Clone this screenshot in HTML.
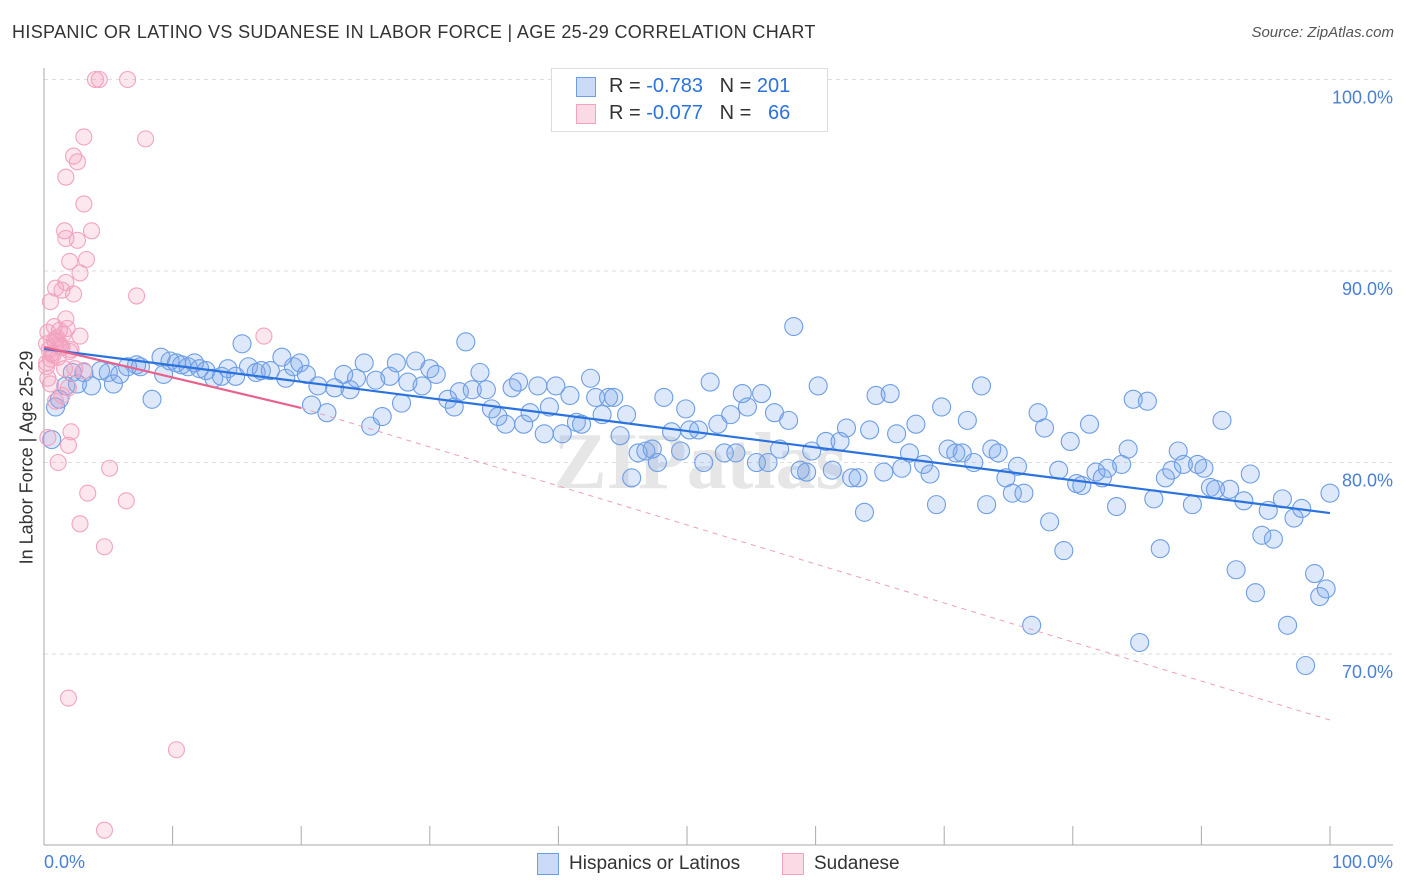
<!DOCTYPE html>
<html><head><meta charset="utf-8">
<style>
body{margin:0;background:#fff;font-family:"Liberation Sans",sans-serif;}
#wrap{position:relative;width:1406px;height:892px;overflow:hidden;}
.t{position:absolute;white-space:nowrap;}
</style></head>
<body>
<div id="wrap">
<div class="t" style="left:12px;top:22px;font-size:18px;color:#333;letter-spacing:0.35px;">HISPANIC OR LATINO VS SUDANESE IN LABOR FORCE | AGE 25-29 CORRELATION CHART</div>
<div class="t" style="right:12px;top:24px;font-size:15px;color:#555;font-style:italic;">Source: ZipAtlas.com</div>
<svg id="svg" width="1406" height="892" style="position:absolute;left:0;top:0"></svg>
</div>
<script>
const xTickVals=[0,10,20,30,40,50,60,70,80,90,100];
const yTickVals=[70,80,90,100];
const yTickLabels=["70.0%","80.0%","90.0%","100.0%"];
const blueX=[0.6,0.9,1.2,1.7,2.2,2.6,3.1,3.7,4.4,5.0,5.4,5.9,6.5,7.2,7.5,8.4,9.1,9.3,9.8,10.3,10.7,11.2,11.7,12.1,12.6,13.2,13.8,14.3,14.9,15.4,15.9,16.5,16.9,17.6,18.5,18.8,19.4,19.9,20.4,20.8,21.3,22.0,22.6,23.3,23.8,24.3,24.9,25.4,25.8,26.3,26.9,27.4,27.8,28.3,28.9,29.4,30.0,30.5,31.4,31.9,32.3,32.8,33.3,33.9,34.4,34.8,35.3,35.9,36.4,36.9,37.3,37.8,38.4,38.9,39.3,39.8,40.3,40.9,41.4,41.8,42.5,42.9,43.4,43.9,44.3,44.8,45.3,45.7,46.2,46.8,47.3,47.7,48.2,48.8,49.5,49.9,50.2,50.9,51.3,51.8,52.4,52.9,53.4,53.8,54.3,54.7,55.4,55.8,56.3,56.8,57.2,57.9,58.3,58.8,59.3,59.7,60.2,60.8,61.3,61.9,62.4,62.8,63.3,63.8,64.2,64.7,65.3,65.8,66.3,66.7,67.3,67.8,68.4,68.9,69.4,69.8,70.3,70.9,71.4,71.8,72.3,72.9,73.3,73.7,74.2,74.8,75.3,75.7,76.2,76.8,77.3,77.8,78.2,78.9,79.3,79.8,80.3,80.7,81.3,81.8,82.3,82.7,83.4,83.8,84.3,84.7,85.2,85.8,86.3,86.8,87.2,87.7,88.2,88.6,89.3,89.7,90.2,90.7,91.1,91.6,92.2,92.7,93.3,93.8,94.2,94.7,95.2,95.6,96.3,96.7,97.2,97.8,98.1,98.8,99.2,99.7,100];
const blueY=[81.2,82.9,83.3,84.0,84.7,84.1,84.7,84.0,84.8,84.7,84.1,84.6,85.0,85.1,85.0,83.3,85.5,84.6,85.3,85.2,85.1,85.0,85.2,84.9,84.8,84.4,84.5,84.9,84.5,86.2,85.0,84.7,84.8,84.8,85.5,84.4,85.0,85.2,84.6,83.0,84.0,82.6,83.9,84.6,83.8,84.4,85.2,81.9,84.3,82.4,84.5,85.2,83.1,84.2,85.3,84.0,84.9,84.6,83.3,82.9,83.7,86.3,83.8,84.7,83.8,82.8,82.4,82.0,83.9,84.2,82.0,82.6,84.0,81.5,82.9,84.0,81.5,83.5,82.1,82.0,84.4,83.4,82.5,83.4,83.4,81.4,82.5,79.2,80.5,80.6,80.7,80.0,83.4,81.6,80.6,82.8,81.7,81.7,80.0,84.2,82.0,80.5,82.5,80.5,83.6,82.9,80.0,83.6,80.0,82.6,80.7,82.2,87.1,79.6,79.5,80.6,84.0,81.1,79.6,81.1,81.8,79.2,79.2,77.4,81.7,83.5,79.5,83.6,81.5,79.7,80.5,82.0,79.9,79.4,77.8,82.9,80.7,80.5,80.5,82.2,80.0,84.0,77.8,80.7,80.5,79.2,78.4,79.8,78.4,71.5,82.6,81.8,76.9,79.6,75.4,81.1,78.9,78.8,82.0,79.5,79.2,79.7,77.7,79.9,80.7,83.3,70.6,83.2,78.1,75.5,79.2,79.6,80.6,79.9,77.8,79.9,79.7,78.7,78.6,82.2,78.6,74.4,78.0,79.4,73.2,76.2,77.5,76.0,78.1,71.5,77.1,77.6,69.4,74.2,73.0,73.4,78.4];
const pinkX=[4.0,4.3,6.5,7.9,3.1,2.3,2.6,1.7,3.1,1.6,3.7,1.7,2.6,2.0,3.3,2.8,1.7,0.9,1.4,2.3,7.2,0.5,1.7,0.8,1.2,0.3,2.8,17.1,0.9,0.2,1.4,2.1,0.6,1.1,0.2,1.6,0.3,3.1,1.9,1.4,0.5,0.9,2.1,0.3,1.9,1.1,5.1,3.4,6.4,2.8,4.7,1.9,10.3,4.7,1.0,0.4,1.3,0.7,1.5,0.2,2.4,0.8,1.8,0.5,1.2,2.0];
const pinkY=[100.0,100.0,100.0,96.9,97.0,96.0,95.7,94.9,93.5,92.1,92.1,91.7,91.6,90.5,90.6,89.9,89.4,89.1,89.0,88.8,88.7,88.4,87.5,87.1,86.9,86.8,86.6,86.6,86.3,86.2,86.0,85.9,85.7,85.5,85.2,84.9,84.4,84.8,83.9,83.5,84.1,83.2,81.6,81.3,80.9,80.0,79.7,78.4,78.0,76.8,75.6,67.7,65.0,60.8,86.5,85.9,86.1,85.6,86.7,85.0,84.9,86.4,87.0,85.4,86.2,85.8];
const blueTrend=[85.93,77.36];
const pinkTrend=[86.03,82.85,66.55];

const NS="http://www.w3.org/2000/svg";
const svg=document.getElementById('svg');
const X=v=>44+v*12.86;
const Y=v=>79.5+(100-v)*19.15;
function mk(tag,attrs,parent){const e=document.createElementNS(NS,tag);for(const k in attrs)e.setAttribute(k,attrs[k]);(parent||svg).appendChild(e);return e;}

yTickVals.forEach((v,i)=>{
  const g=mk('line',{x1:44,x2:1393,y1:Y(v),y2:Y(v),stroke:'#ddd','stroke-dasharray':'4,4','stroke-width':1});
  
  
  const t=mk('text',{x:1393,y:Y(v)+24,'text-anchor':'end','font-size':18,fill:'#4a7fd6','font-family':'Liberation Sans, sans-serif'});
  t.textContent=yTickLabels[i];
  
  
});
const ax=mk('line',{x1:44,x2:44,y1:68,y2:845,stroke:'#aaa'});


const bx=mk('line',{x1:44,x2:1393,y1:845,y2:845,stroke:'#aaa'});


xTickVals.forEach(v=>{
  const tk=mk('line',{x1:X(v),x2:X(v),y1:826,y2:845,stroke:'#aaa'});
  
  
});
const wm=mk('text',{x:700,y:488,'text-anchor':'middle','font-size':80,fill:'#e6e6e6','font-family':'Liberation Serif, serif','font-weight':'bold'});
wm.textContent='ZIPatlas';



blueX.forEach((x,i)=>{
  const c=mk('circle',{cx:X(x),cy:Y(blueY[i]),r:9,fill:'rgba(120,165,235,0.25)',stroke:'#6d9ee4','stroke-width':1.1});
  
  
});
pinkX.forEach((x,i)=>{
  const c=mk('circle',{cx:X(x),cy:Y(pinkY[i]),r:8,fill:'rgba(245,160,190,0.25)',stroke:'#f2a3be','stroke-width':1.1});
  
  
});
const pd=mk('line',{x1:X(20),y1:Y(pinkTrend[1]),x2:X(100),y2:Y(pinkTrend[2]),stroke:'#eba0b8','stroke-width':1,'stroke-dasharray':'5,5'});


const bl=mk('line',{x1:X(0),y1:Y(blueTrend[0]),x2:X(100),y2:Y(blueTrend[1]),stroke:'#2a72de','stroke-width':2.2});


const pl=mk('line',{x1:X(0),y1:Y(pinkTrend[0]),x2:X(20),y2:Y(pinkTrend[1]),stroke:'#e8628c','stroke-width':2.2});


</script>
<div class="t" style="left:44px;top:852px;font-size:18px;color:#4a7fd6;">0.0%</div>
<div class="t" style="right:13px;top:852px;font-size:18px;color:#4a7fd6;">100.0%</div>
<div class="t" style="left:-88px;top:447px;font-size:18px;color:#333;transform:rotate(-90deg);width:230px;text-align:center;">In Labor Force | Age 25-29</div>
<div style="position:absolute;left:551px;top:68px;width:275px;height:62px;border:1px solid #ddd;background:#fff;font-size:20px;">
  <div style="position:absolute;left:24px;top:8px;width:18px;height:18px;background:rgba(120,165,235,0.4);border:1px solid #6d9ee4;"></div>
  <div class="t" style="left:57px;top:6px;color:#333;">R = <span style="color:#2a72de">-0.783</span> &nbsp;&nbsp;N = <span style="color:#2a72de">201</span></div>
  <div style="position:absolute;left:24px;top:35px;width:18px;height:18px;background:rgba(245,160,190,0.4);border:1px solid #f2a3be;"></div>
  <div class="t" style="left:57px;top:33px;color:#333;">R = <span style="color:#2a72de">-0.077</span> &nbsp;&nbsp;N = &nbsp;&nbsp;<span style="color:#2a72de">66</span></div>
</div>
<div style="position:absolute;left:537px;top:853px;font-size:19px;color:#333;">
  <div style="position:absolute;left:0;top:0;width:20px;height:20px;background:rgba(120,165,235,0.4);border:1px solid #6d9ee4;"></div>
  <span class="t" style="left:32px;top:0;">Hispanics or Latinos</span>
</div>
<div style="position:absolute;left:782px;top:853px;font-size:19px;color:#333;">
  <div style="position:absolute;left:0;top:0;width:20px;height:20px;background:rgba(245,160,190,0.4);border:1px solid #f2a3be;"></div>
  <span class="t" style="left:32px;top:0;">Sudanese</span>
</div>
</body></html>
